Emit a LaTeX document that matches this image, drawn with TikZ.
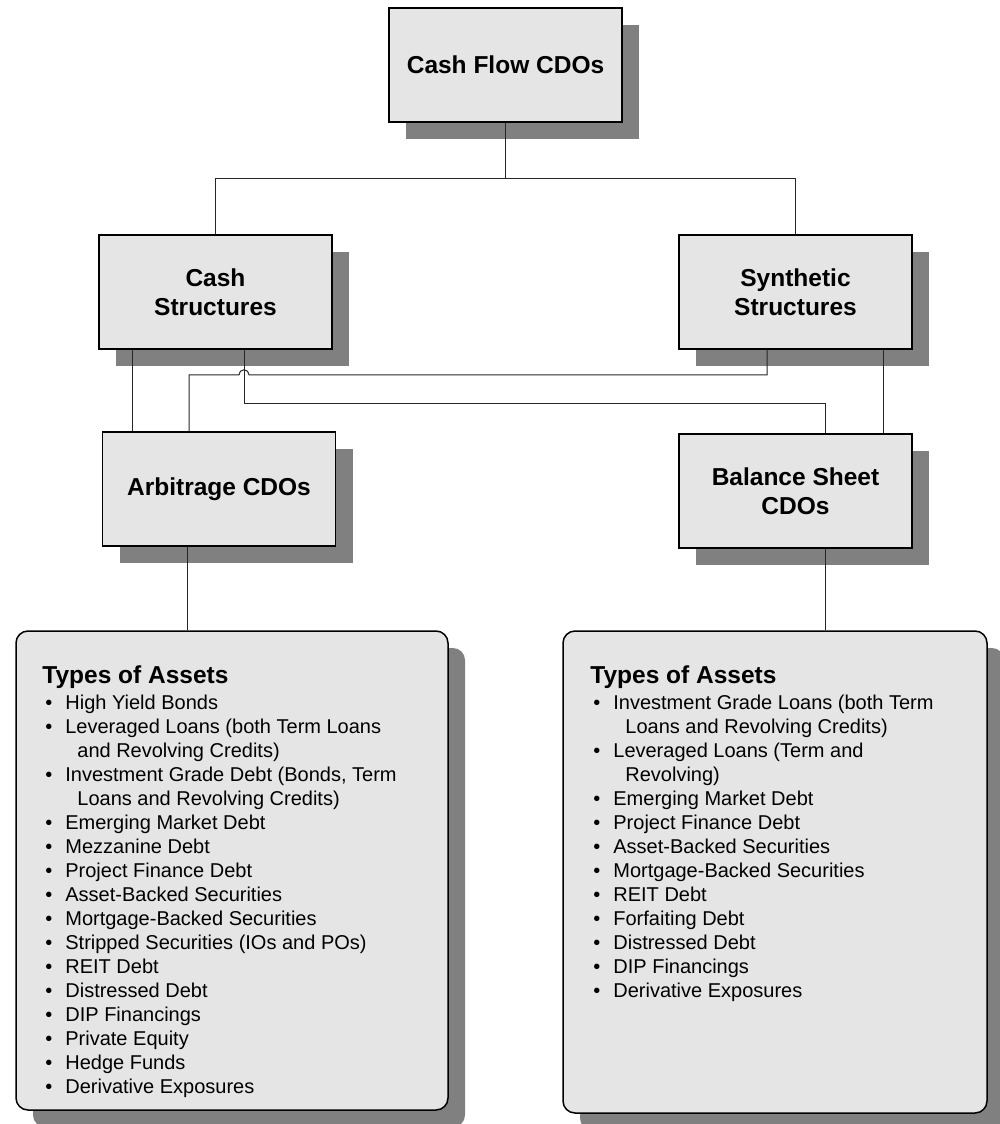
\documentclass[tikz,border=0pt]{standalone}
\usepackage{fontspec}
\setmainfont{Liberation Sans}
\usetikzlibrary{shadows,calc}
\definecolor{boxfill}{RGB}{229,229,229}
\definecolor{shadowgray}{RGB}{128,128,128}
\newcommand{\itm}[1]{\makebox[11.5pt][l]{\hspace*{1.5pt}\textbullet}#1}
\newcommand{\cnt}[1]{\hspace*{17.5pt}#1}
\newcommand{\hdg}[1]{{\fontsize{12.25}{14}\selectfont\bfseries #1}}
\begin{document}
\begin{tikzpicture}[x=0.5pt,y=-0.5pt,
 boxshadow/.style={drop shadow={shadow xshift=8.5pt, shadow yshift=-8.5pt, opacity=1, fill=shadowgray}},
 catbox/.style={draw=black, line width=0.75pt, fill=boxfill, minimum width=116.5pt, minimum height=57pt,
   inner sep=0pt, align=center, font=\fontsize{12.25}{14.5}\selectfont\bfseries, boxshadow},
 listbox/.style={draw=black, line width=0.75pt, fill=boxfill, rounded corners=6pt, inner sep=0pt, boxshadow},
 listtext/.style={anchor=north west, inner sep=0pt, align=left, font=\fontsize{10}{12}\selectfont},
 link/.style={draw=black!85, line width=0.5pt}]

\useasboundingbox (0,0) rectangle (1000,1124);

% category boxes
\node[catbox] (top) at (505.5,65) {Cash Flow CDOs};
\node[catbox] (cash) at (215.5,292) {Cash\\Structures};
\node[catbox] (synth) at (795.5,292) {Synthetic\\Structures};
\node[catbox] (arb) at (219,489) {Arbitrage CDOs};
\node[catbox] (bal) at (795.5,491) {Balance Sheet\\CDOs};

% list boxes
\node[listbox, minimum width=216pt, minimum height=239.5pt] (lbox) at (232,870.5) {};
\node[listbox, minimum width=212pt, minimum height=241pt] (rbox) at (775,872) {};

\node[listtext] (ltext) at (42,665) {\hdg{Types of Assets}\\[1pt]
\itm{High Yield Bonds}\\
\itm{Leveraged Loans (both Term Loans}\\
\cnt{and Revolving Credits)}\\
\itm{Investment Grade Debt (Bonds, Term}\\
\cnt{Loans and Revolving Credits)}\\
\itm{Emerging Market Debt}\\
\itm{Mezzanine Debt}\\
\itm{Project Finance Debt}\\
\itm{Asset-Backed Securities}\\
\itm{Mortgage-Backed Securities}\\
\itm{Stripped Securities (IOs and POs)}\\
\itm{REIT Debt}\\
\itm{Distressed Debt}\\
\itm{DIP Financings}\\
\itm{Private Equity}\\
\itm{Hedge Funds}\\
\itm{Derivative Exposures}};

\node[listtext] (rtext) at (590,665) {\hdg{Types of Assets}\\[1pt]
\itm{Investment Grade Loans (both Term}\\
\cnt{Loans and Revolving Credits)}\\
\itm{Leveraged Loans (Term and}\\
\cnt{Revolving)}\\
\itm{Emerging Market Debt}\\
\itm{Project Finance Debt}\\
\itm{Asset-Backed Securities}\\
\itm{Mortgage-Backed Securities}\\
\itm{REIT Debt}\\
\itm{Forfaiting Debt}\\
\itm{Distressed Debt}\\
\itm{DIP Financings}\\
\itm{Derivative Exposures}};

% connector anchor points
\coordinate (tb) at (top.south);
\coordinate (c1) at ([xshift=-41.75pt]cash.south);
\coordinate (c2) at ([xshift=14.25pt]cash.south);
\coordinate (s1) at ([xshift=-14.25pt]synth.south);
\coordinate (s3) at ([xshift=43.75pt]synth.south);
\coordinate (a2) at ([xshift=-15pt]arb.north);
\coordinate (a3) at ([xshift=-16pt]arb.south);
\coordinate (b1) at ([xshift=14.75pt]bal.north);
\coordinate (b3) at ([xshift=14.75pt]bal.south);

% connectors
\draw[link] (tb) -- ++(0,56) coordinate (tj);
\draw[link] (cash.north) |- (tj) -| (synth.north);
\draw[link] (c1) -- (c1 |- arb.north);
\draw[link] (c2) -- ++(0,54) coordinate (c2b) -| (b1);
\draw[link] (s1) -- ++(0,25) coordinate (s2) -- ($(c2 |- s2)+(5,0)$)
  arc[start angle=0, end angle=180, radius=2.5pt] -- (a2 |- s2) -- (a2);
\draw[link] (s3) -- (s3 |- bal.north);
\draw[link] (a3) -- (a3 |- lbox.north);
\draw[link] (b3) -- (b3 |- rbox.north);
\end{tikzpicture}
\end{document}
